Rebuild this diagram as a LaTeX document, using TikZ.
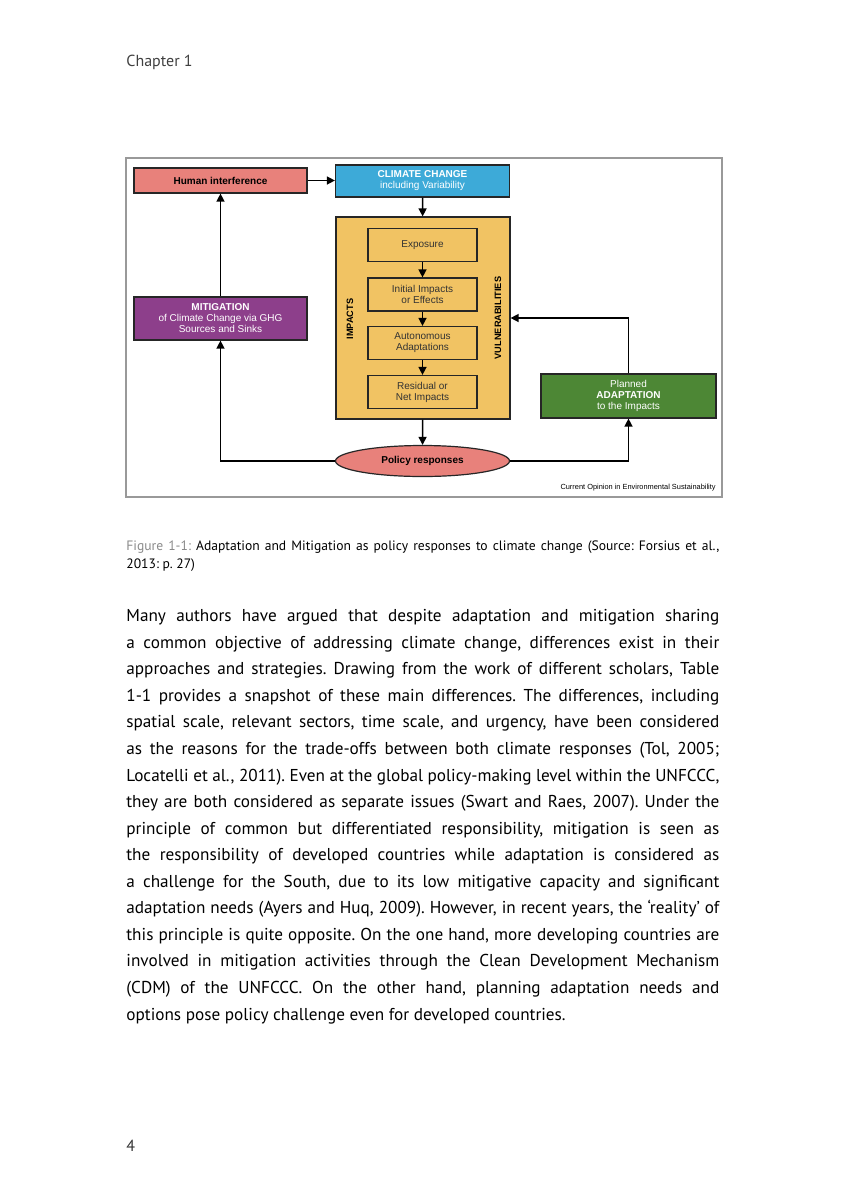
\documentclass[tikz,border=0pt]{standalone}
\usepackage{fontspec}
\setmainfont{PT Sans}
\newfontfamily\diagfont{Liberation Sans}
\usetikzlibrary{arrows.meta,shapes.geometric}
\frenchspacing

\definecolor{humanred}{HTML}{E8817B}
\definecolor{climblue}{HTML}{3DAAD8}
\definecolor{impyellow}{HTML}{F1C363}
\definecolor{mitpurple}{HTML}{8D3F8B}
\definecolor{adagreen}{HTML}{4D8735}
\definecolor{capgray}{HTML}{8A8A8A}

\tikzset{
	box/.style={draw=black!85, line width=0.6pt, minimum width=86.5pt, align=center,
		inner sep=1pt, font=\diagfont\fontsize{5}{5.5}\selectfont},
	inbox/.style={box, fill=impyellow, minimum width=54.5pt, minimum height=16.5pt, text=black!80},
	sidelabel/.style={rotate=90, font=\diagfont\bfseries\fontsize{4.6}{5}\selectfont},
	arr/.style={-{Triangle[length=4pt,width=4pt]}, line width=0.7pt},
	bodyline/.style={anchor=base west, inner sep=0, font=\fontsize{8.6}{13.3}\selectfont},
	capline/.style={anchor=base west, inner sep=0, font=\fontsize{6.8}{9}\selectfont}
}

\begin{document}
\begin{tikzpicture}[x=0.5pt, y=-0.5pt]
	\useasboundingbox (0,0) rectangle (847,1200);

	\node[anchor=base west, inner sep=0, text=black!75, font=\fontsize{8}{9.6}\selectfont] (chap) at (126,66) {Chapter 1};

	% figure frame
	\draw[black!40, line width=0.6pt] (126,158) rectangle (722,497);

	\node[box, fill=humanred, minimum height=12.5pt] (human) at (220.5,180.5) {\textbf{Human interference}};
	\node[box, fill=climblue, text=white, minimum width=87pt, minimum height=16pt] (climate) at (422.5,181) {\textbf{CLIMATE CHANGE}\\including Variability};

	\node[draw=black!85, line width=0.6pt, fill=impyellow, minimum width=87pt, minimum height=101pt] (impbox) at (423,318) {};
	\foreach \name/\y/\txt in {expo/245/Exposure, init/294.5/{Initial Impacts\\or Effects}, auto/343/{Autonomous\\Adaptations}, resid/392/{Residual or\\Net Impacts}}
		\node[inbox] (\name) at (422.5,\y) {\txt};
	\foreach \a/\b in {expo/init, init/auto, auto/resid}
		\draw[arr] (\a) -- (\b);
	\node[sidelabel] (implabel) at (350,319) {IMPACTS};
	\node[sidelabel] (vullabel) at (498,318) {VULNERABILITIES};

	\node[box, fill=mitpurple, text=white, minimum height=21.5pt] (mitig) at (220.5,318.5) {\textbf{MITIGATION}\\of Climate Change via GHG\\Sources and Sinks};
	\node[box, fill=adagreen, text=white, minimum width=87.5pt, minimum height=22pt] (adapt) at (628.5,396) {Planned\\\textbf{ADAPTATION}\\to the Impacts};
	\node[box, ellipse, fill=humanred, minimum width=87pt, minimum height=15.5pt] (policy) at (422.5,461) {\textbf{Policy responses}};

	\node[anchor=base east, inner sep=0, font=\diagfont\fontsize{3.7}{4}\selectfont] (source) at (716,489) {Current Opinion in Environmental Sustainability};

	\draw[arr] (human.east) -- (climate.west |- human.east);
	\draw[arr] (climate) -- (impbox);
	\draw[arr] (impbox) -- (policy);
	\draw[arr] (mitig) -- (human);
	\draw[arr] (adapt.north) |- (impbox.east);
	\draw[arr] (policy.west) -| (mitig.south);
	\draw[arr] (policy.east) -| (adapt.south);

	% caption
	\node[capline] (cap1) at (126,550) {\hbox to 296.5pt{\textcolor{capgray}{Figure 1-1:} Adaptation and Mitigation as policy responses to climate change (Source: Forsius et al.,}};
	\node[capline] (cap2) at (126,568.5) {2013: p. 27)};

	% body text
	\foreach \ln [count=\i from 0] in {
		{Many authors have argued that despite adaptation and mitigation sharing},
		{a common objective of addressing climate change, differences exist in their},
		{approaches and strategies. Drawing from the work of different scholars, Table},
		{1-1 provides a snapshot of these main differences. The differences, including},
		{spatial scale, relevant sectors, time scale, and urgency, have been considered},
		{as the reasons for the trade-offs between both climate responses (Tol, 2005;},
		{Locatelli et al., 2011). Even at the global policy-making level within the UNFCCC,},
		{they are both considered as separate issues (Swart and Raes, 2007). Under the},
		{principle of common but differentiated responsibility, mitigation is seen as},
		{the responsibility of developed countries while adaptation is considered as},
		{a challenge for the South, due to its low mitigative capacity and significant},
		{adaptation needs (Ayers and Huq, 2009). However, in recent years, the ‘reality’ of},
		{this principle is quite opposite. On the one hand, more developing countries are},
		{involved in mitigation activities through the Clean Development Mechanism},
		{(CDM) of the UNFCCC. On the other hand, planning adaptation needs and}}
		\node[bodyline] (line\i) at (126,621.7+26.55*\i) {\hbox to 296.5pt{\ln}};
	\node[bodyline] (line15) at (126,1020) {options pose policy challenge even for developed countries.};

	\node[anchor=base west, inner sep=0, text=black!80, font=\fontsize{8}{9.6}\selectfont] (pagenum) at (126,1151) {4};
\end{tikzpicture}
\end{document}
